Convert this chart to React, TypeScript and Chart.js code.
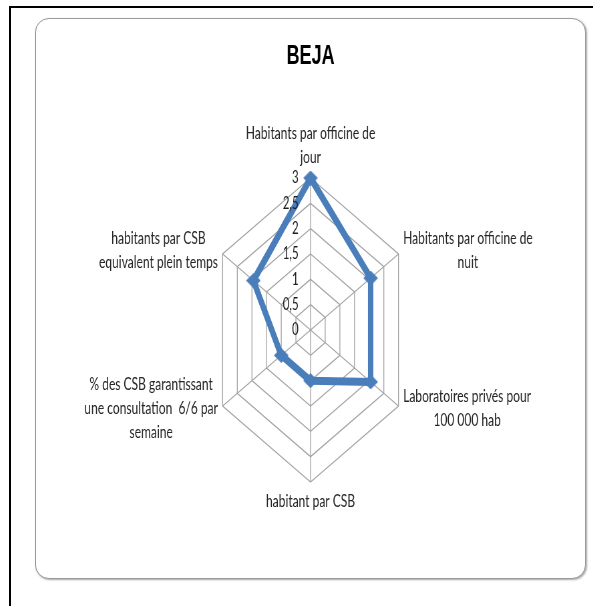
import React, { useEffect, useRef } from "react";
import { Chart, registerables } from "chart.js";

Chart.register(...registerables);

// ---------- data ----------
const TITLE = "BEJA";
const CATEGORIES: string[][] = [
  ["Habitants par officine de", "jour"],
  ["Habitants par officine de", "nuit"],
  ["Laboratoires privés pour", "100 000 hab"],
  ["habitant par CSB"],
  ["% des CSB garantissant", "une consultation  6/6 par", "semaine"],
  ["habitants par CSB", "equivalent plein temps"],
];
const SERIES_VALUES = [3, 2.05, 2.05, 1, 1, 1.95];
const TICK_VALUES = [0, 0.5, 1, 1.5, 2, 2.5, 3];
const TICK_LABELS = ["0", "0,5", "1", "1,5", "2", "2,5", "3"];

// ---------- style ----------
const SX = 0.668; // horizontal squeeze of the whole picture
const BLUE = "#4A7EBB";
const GRID = "#a3a3a3";
const CW = 822;
const CH = 559;

function makeDiamond(color: string) {
  const h = 15;
  const w = Math.round(h / SX);
  const c = document.createElement("canvas");
  c.width = w;
  c.height = h;
  const g = c.getContext("2d")!;
  g.fillStyle = color;
  g.beginPath();
  g.moveTo(w / 2, 0);
  g.lineTo(w, h / 2);
  g.lineTo(w / 2, h);
  g.lineTo(0, h / 2);
  g.closePath();
  g.fill();
  return c;
}

const labelsPlugin = {
  id: "radarLabels",
  afterDraw(chart: any) {
    const scale = chart.scales.r;
    const ctx = chart.ctx as CanvasRenderingContext2D;
    ctx.save();
    ctx.fillStyle = "#262626";
    ctx.textBaseline = "middle";
    ctx.textAlign = "center";
    ctx.font = "18px Lato";
    const lh = 24;
    const n = CATEGORIES.length;
    CATEGORIES.forEach((lines, i) => {
      const v = scale.getPointPosition(i, scale.drawingArea);
      const bw = Math.max(...lines.map((l) => ctx.measureText(l).width));
      const bh = lines.length * lh;
      const angle = (i * 360) / n;
      let cx = v.x;
      let top = v.y;
      if (angle === 0) {
        top = v.y - 9 - bh;
      } else if (angle === 180) {
        top = v.y + 7;
      } else {
        cx = angle < 180 ? v.x + 7 + bw / 2 : v.x - 7 - bw / 2;
        top = v.y - bh / 2 + (v.y < scale.yCenter ? -4 : 2);
      }
      lines.forEach((l, k) => ctx.fillText(l, cx, top + lh * (k + 0.5)));
    });
    ctx.font = "17px Lato";
    ctx.textAlign = "right";
    ctx.fillStyle = "#1f1f1f";
    TICK_VALUES.forEach((t, k) => {
      const d = scale.getDistanceFromCenterForValue(t);
      ctx.fillText(TICK_LABELS[k], scale.xCenter - 18, scale.yCenter - d);
    });
    ctx.restore();
  },
};

export default function App() {
  const ref = useRef<HTMLCanvasElement | null>(null);

  useEffect(() => {
    document.documentElement.style.overflow = "hidden";
    const canvas = ref.current!;
    const diamond = makeDiamond(BLUE);
    const chart = new Chart(canvas, {
      type: "radar",
      data: {
        labels: CATEGORIES,
        datasets: [
          {
            data: SERIES_VALUES,
            borderColor: BLUE,
            backgroundColor: BLUE,
            borderWidth: 8,
            borderJoinStyle: "round",
            fill: false,
            pointStyle: diamond as any,
            pointRadius: 7,
            pointBorderWidth: 0,
            pointBackgroundColor: BLUE,
          } as any,
        ],
      },
      options: {
        responsive: false,
        animation: false,
        devicePixelRatio: 1,
        layout: { padding: { top: 0, bottom: 95, left: 0, right: 0 } },
        plugins: {
          legend: { display: false },
          tooltip: { enabled: false },
          title: {
            display: true,
            text: TITLE,
            color: "#000",
            font: { family: "'Liberation Sans', Arial, sans-serif", size: 27, weight: "bold", lineHeight: 1.2 },
            padding: { top: 21.8, bottom: 104 },
          },
        },
        scales: {
          r: {
            min: 0,
            max: 3,
            ticks: { stepSize: 0.5, display: false },
            grid: { color: GRID, lineWidth: 1.3 },
            angleLines: { color: GRID, lineWidth: 1.3 },
            pointLabels: { display: false },
          },
        },
      },
      plugins: [labelsPlugin],
    });
    return () => chart.destroy();
  }, []);

  return (
    <>
      <div
        style={{
          position: "absolute",
          left: 9,
          top: 6,
          width: 584,
          height: 600,
          borderLeft: "2px solid #000",
          borderTop: "2px solid #000",
          boxSizing: "border-box",
        }}
      />
      <div
        style={{
          position: "absolute",
          left: 35,
          top: 18,
          width: 551,
          height: 561,
          border: "1px solid #9a9a9a",
          borderRadius: 14,
          boxShadow: "1px 1px 2px rgba(0,0,0,0.35)",
          boxSizing: "border-box",
          background: "#fff",
        }}
      />
      <div
        style={{
          position: "absolute",
          left: 36,
          top: 19,
          width: CW,
          height: CH,
          transform: `scaleX(${SX})`,
          transformOrigin: "0 0",
        }}
      >
        <canvas ref={ref} width={CW} height={CH} />
      </div>
    </>
  );
}
